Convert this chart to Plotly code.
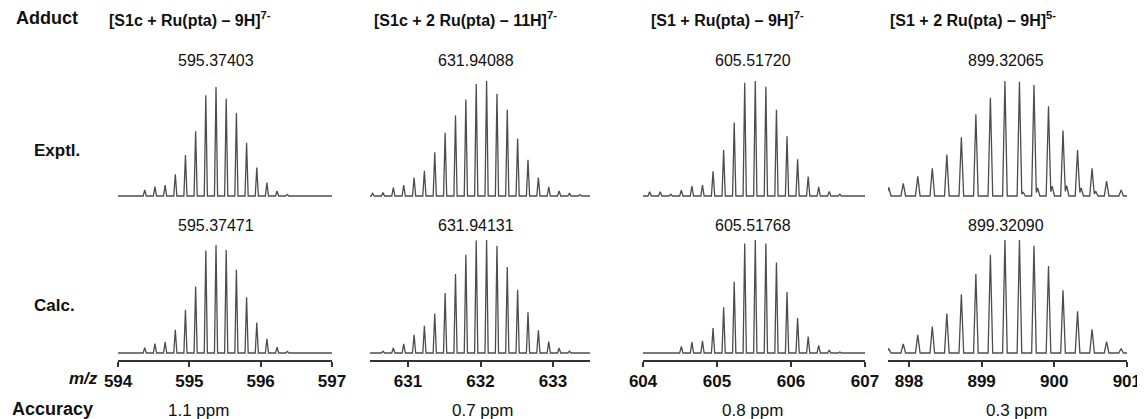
import plotly.graph_objects as go

# page has an 8 px body margin: draw the figure 8 px smaller and shift coordinates
OFF = 8
W, H = 1145 - OFF, 419 - OFF

# ---------------- data ----------------
titles = ["[S1c + Ru(pta) – 9H]<sup>7-</sup>", "[S1c + 2 Ru(pta) – 11H]<sup>7-</sup>",
          "[S1 + Ru(pta) – 9H]<sup>7-</sup>", "[S1 + 2 Ru(pta) – 9H]<sup>5-</sup>"]
exp_labels = ["595.37403", "631.94088", "605.51720", "899.32065"]
calc_labels = ["595.37471", "631.94131", "605.51768", "899.32090"]
accuracy = ["1.1 ppm", "0.7 ppm", "0.8 ppm", "0.3 ppm"]

ticks1 = [594, 595, 596, 597]
ticks2 = [631, 632, 633]
ticks3 = [604, 605, 606, 607]
ticks4 = [898, 899, 900, 901]

# panel 1
mz1 = [594.374, 594.517, 594.660, 594.803, 594.945, 595.088, 595.231, 595.374,
       595.517, 595.660, 595.803, 595.946, 596.088, 596.231, 596.374]
exp1 = [0.055, 0.085, 0.10, 0.20, 0.375, 0.595, 0.924, 1.0, 0.893, 0.762, 0.488, 0.262, 0.122, 0.046, 0.015]
calc1 = [0.05, 0.086, 0.10, 0.215, 0.40, 0.615, 0.948, 1.0, 0.954, 0.77, 0.517, 0.283, 0.132, 0.055, 0.015]

# panel 2
mz2_exp = [630.512, 630.655, 630.798, 630.941, 631.084, 631.226, 631.369, 631.512, 631.655, 631.798,
           631.941, 632.084, 632.227, 632.369, 632.512, 632.655, 632.798, 632.941, 633.084, 633.227, 633.370]
exp2 = [0.023, 0.03, 0.073, 0.094, 0.16, 0.22, 0.38, 0.55, 0.70, 0.84,
        0.974, 1.0, 0.89, 0.75, 0.50, 0.316, 0.16, 0.08, 0.045, 0.025, 0.012]
mz2_calc = [630.655, 630.798, 630.941, 631.084, 631.226, 631.369, 631.512, 631.655, 631.798, 631.941,
            632.084, 632.227, 632.369, 632.512, 632.655, 632.798, 632.941, 633.084, 633.227]
calc2 = [0.015, 0.044, 0.08, 0.16, 0.24, 0.35, 0.53, 0.70, 0.87, 0.995,
         1.0, 0.95, 0.76, 0.56, 0.36, 0.20, 0.10, 0.044, 0.015]

# panel 3
mz3_exp = [604.089, 604.232, 604.374, 604.517, 604.660, 604.803, 604.946, 605.089, 605.232, 605.374,
           605.517, 605.660, 605.803, 605.946, 606.089, 606.232, 606.374, 606.517, 606.660]
exp3 = [0.037, 0.037, 0.015, 0.05, 0.086, 0.095, 0.215, 0.40, 0.64, 0.985,
        1.0, 0.95, 0.75, 0.52, 0.32, 0.17, 0.08, 0.04, 0.015]
mz3_calc = [604.517, 604.660, 604.803, 604.946, 605.089, 605.232, 605.374, 605.517, 605.660,
            605.803, 605.946, 606.089, 606.232, 606.374, 606.517, 606.660]
calc3 = [0.058, 0.096, 0.107, 0.22, 0.405, 0.63, 0.97, 1.0, 0.97,
         0.80, 0.54, 0.31, 0.145, 0.067, 0.025, 0.008]

# panel 4
mz4 = [897.721, 897.921, 898.121, 898.321, 898.521, 898.721, 898.921, 899.121, 899.321,
       899.521, 899.721, 899.921, 900.121, 900.321, 900.521, 900.721, 900.921]
exp4 = [0.075, 0.11, 0.17, 0.24, 0.36, 0.51, 0.71, 0.855, 1.0, 0.994, 0.965, 0.78, 0.57, 0.40, 0.24, 0.13, 0.052]
mz4_minor = [899.571, 899.771, 899.971, 900.171, 900.371, 900.571]
exp4_minor = [0.035, 0.07, 0.085, 0.09, 0.07, 0.04]
calc4 = [0.04, 0.08, 0.16, 0.234, 0.35, 0.52, 0.70, 0.87, 1.0, 1.0, 0.95, 0.77, 0.556, 0.37, 0.21, 0.10, 0.04]

# ---------------- layout geometry (reference pixels) ----------------
panel_px = [(118, 332), (370, 590), (643, 865), (888, 1127)]
panel_rng = [(593.999, 597.001), (630.476, 633.51), (603.999, 607.0), (897.711, 901.002)]
panel_ticks = [ticks1, ticks2, ticks3, ticks4]
label_x = [216, 476, 753, 1006]
title_x = [190, 465, 727, 973]
acc_x = [198, 482, 752, 1016]

TOP_DOM = (75, 200)   # px top, bottom
BOT_DOM = (235, 360)
top_base, bot_base = 196, 353
top_h = [109, 115, 115, 115]
bot_h = [108, 113, 113, 113]

def X(px):
    return (px - OFF) / W

def Y(px):
    return 1 - (px - OFF) / H

def profile(mzs, hs, w, lo, hi):
    pts = {lo: 0.0, hi: 0.0}
    tri = list(zip(mzs, hs))
    for m, h in tri:
        for x in (m - w, m, m + w):
            pts.setdefault(x, 0.0)
    xs = sorted(pts)
    ys = []
    for x in xs:
        v = 0.0
        for m, h in tri:
            d = abs(x - m)
            if d < w:
                v = max(v, h * (1 - d / w))
        ys.append(v)
    return xs, ys

spectra_top = [(mz1, exp1, [], []), (mz2_exp, exp2, [], []), (mz3_exp, exp3, [], []),
               (mz4, exp4, mz4_minor, exp4_minor)]
spectra_bot = [(mz1, calc1), (mz2_calc, calc2), (mz3_calc, calc3), (mz4, calc4)]
widths = [0.022, 0.022, 0.022, 0.032]

fig = go.Figure()
layout = dict(width=W, height=H, margin=dict(l=0, r=0, t=0, b=0, pad=0), autosize=False,
              paper_bgcolor="white", plot_bgcolor="white", showlegend=False)

LINE = dict(color="#4d4d4d", width=1.3)
FONT = "Liberation Sans, Arial, sans-serif"

for i in range(4):
    lo, hi = panel_rng[i]
    xd = [X(panel_px[i][0]), X(panel_px[i][1])]
    nt, nb = 2 * i + 1, 2 * i + 2
    # top (experimental)
    mzs, hs, mzm, hm = spectra_top[i]
    xs, ys = profile(list(mzs) + list(mzm), list(hs) + list(hm), widths[i], lo, hi)
    fig.add_trace(go.Scatter(x=xs, y=ys, mode="lines", line=LINE, hoverinfo="skip",
                             xaxis=f"x{nt}", yaxis=f"y{nt}"))
    scale = top_h[i]
    ymin = -(TOP_DOM[1] - top_base) / scale
    ymax = ymin + (TOP_DOM[1] - TOP_DOM[0]) / scale
    layout[f"xaxis{nt}"] = dict(domain=xd, range=[lo, hi], visible=False, anchor=f"y{nt}",
                                automargin=False)
    layout[f"yaxis{nt}"] = dict(domain=[Y(TOP_DOM[1]), Y(TOP_DOM[0])], range=[ymin, ymax],
                                visible=False, anchor=f"x{nt}", automargin=False)
    # bottom (calculated)
    mzs, hs = spectra_bot[i]
    xs, ys = profile(mzs, hs, widths[i], lo, hi)
    fig.add_trace(go.Scatter(x=xs, y=ys, mode="lines", line=LINE, hoverinfo="skip",
                             xaxis=f"x{nb}", yaxis=f"y{nb}"))
    scale = bot_h[i]
    ymin = -(BOT_DOM[1] - bot_base) / scale
    ymax = ymin + (BOT_DOM[1] - BOT_DOM[0]) / scale
    layout[f"xaxis{nb}"] = dict(domain=xd, range=[lo, hi], anchor=f"y{nb}", automargin=False,
                                showline=True, linecolor="#333333", linewidth=1.5,
                                ticks="outside", ticklen=5, tickwidth=1.5, tickcolor="#333333",
                                tickvals=panel_ticks[i], showgrid=False, zeroline=False,
                                tickfont=dict(family=FONT, size=17, color="#111111", weight="bold"))
    layout[f"yaxis{nb}"] = dict(domain=[Y(BOT_DOM[1]), Y(BOT_DOM[0])], range=[ymin, ymax],
                                visible=False, anchor=f"x{nb}", automargin=False)

fig.update_layout(**layout)

def ann(text, xpx, ypx, size, bold=False, xanchor="center"):
    fig.add_annotation(text=f"<b>{text}</b>" if bold else text, x=X(xpx), y=Y(ypx),
                       xref="paper", yref="paper", showarrow=False, xanchor=xanchor,
                       yanchor="middle", font=dict(family=FONT, size=size, color="#111111"))

ann("Adduct", 14, 18, 18, bold=True, xanchor="left")
ann("Exptl.", 32, 150, 17, bold=True, xanchor="left")
ann("Calc.", 32, 305, 17, bold=True, xanchor="left")
ann("Accuracy", 10, 409, 18, bold=True, xanchor="left")
ann("<i>m/z</i>", 100, 378, 17, bold=True, xanchor="right")
for i in range(4):
    ann(titles[i], title_x[i], 19, 16, bold=True)
    ann(exp_labels[i], label_x[i], 60, 16)
    ann(calc_labels[i], label_x[i], 225, 16)
    ann(accuracy[i], acc_x[i], 410, 17)

fig.write_html("out.html")
